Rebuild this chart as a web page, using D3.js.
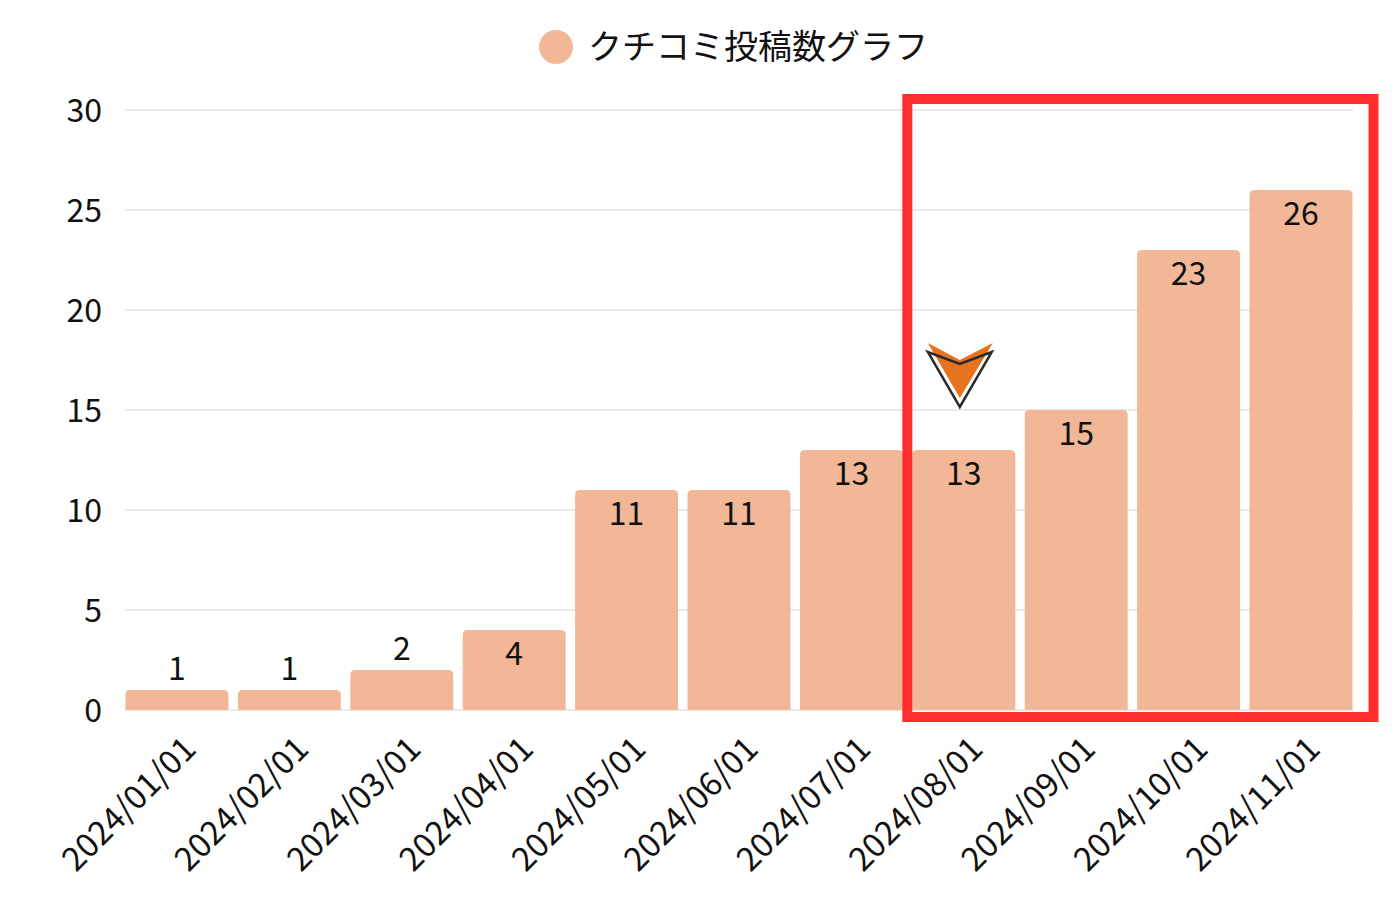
<!DOCTYPE html>
<html>
<head>
<meta charset="utf-8">
<script src="https://cdn.jsdelivr.net/npm/d3@7"></script>
<style>
  html, body { margin: 0; padding: 0; background: #fff; }
  svg text { font-family: "Noto Sans CJK JP", "Noto Sans", sans-serif; fill: #111; }
</style>
</head>
<body>
<svg id="chart" width="1400" height="920"></svg>
<script>
// chart data
const months = ["2024/01/01", "2024/02/01", "2024/03/01", "2024/04/01", "2024/05/01", "2024/06/01",
  "2024/07/01", "2024/08/01", "2024/09/01", "2024/10/01", "2024/11/01"];
const reviewCounts = [1, 1, 2, 4, 11, 11, 13, 13, 15, 23, 26];
const yTicks = [0, 5, 10, 15, 20, 25, 30];
const legendLabel = "クチコミ投稿数グラフ";
const highlightFrom = "2024/08/01";
const highlightTo = "2024/11/01";

const BAR_COLOR = "#f2b797";
const GRID_COLOR = "#e3e3e3";
const BOX_COLOR = "#ff2d2d";
const ARROW_COLOR = "#e8731f";

const svg = d3.select("#chart");

const x = d3.scaleBand()
  .domain(months)
  .range([121, 1357])
  .paddingInner(0.084)
  .paddingOuter(0.04);

const y = d3.scaleLinear()
  .domain([0, 30])
  .range([710, 110]);

// grid lines
svg.append("g")
  .selectAll("line")
  .data(yTicks)
  .enter()
  .append("line")
  .attr("x1", 125)
  .attr("x2", 1353)
  .attr("y1", d => y(d))
  .attr("y2", d => y(d))
  .attr("stroke", GRID_COLOR)
  .attr("stroke-width", 1.5);

// y axis labels
svg.append("g")
  .selectAll("text")
  .data(yTicks)
  .enter()
  .append("text")
  .attr("x", 102)
  .attr("y", d => y(d))
  .attr("dy", "0.36em")
  .attr("text-anchor", "end")
  .attr("font-size", 32)
  .text(d => d);

// bars with rounded top corners
const r = 5;
const barPath = d => {
  const x0 = x(d.m), w = x.bandwidth();
  const top = y(d.v), base = y(0);
  return `M${x0},${base} V${top + r} Q${x0},${top} ${x0 + r},${top} H${x0 + w - r} Q${x0 + w},${top} ${x0 + w},${top + r} V${base} Z`;
};

const rows = months.map((m, i) => ({ m: m, v: reviewCounts[i] }));

svg.append("g")
  .selectAll("path")
  .data(rows)
  .enter()
  .append("path")
  .attr("d", barPath)
  .attr("fill", BAR_COLOR);

// value labels: inside near the top, above when bar is too short
svg.append("g")
  .selectAll("text")
  .data(rows)
  .enter()
  .append("text")
  .attr("x", d => x(d.m) + x.bandwidth() / 2)
  .attr("y", d => (y(0) - y(d.v) < 60) ? y(d.v) - 22 : y(d.v) + 23)
  .attr("dy", "0.36em")
  .attr("text-anchor", "middle")
  .attr("font-size", 32)
  .text(d => d.v);

// x axis labels (rotated)
svg.append("g")
  .selectAll("text")
  .data(months)
  .enter()
  .append("text")
  .attr("transform", d => `translate(${x(d) + x.bandwidth() / 2 + 21},751) rotate(-45)`)
  .attr("text-anchor", "end")
  .attr("font-size", 33)
  .text(d => d);

// legend
const legend = svg.append("g");
legend.append("circle")
  .attr("cx", 556)
  .attr("cy", 47)
  .attr("r", 17)
  .attr("fill", BAR_COLOR);
legend.append("text")
  .attr("x", 588)
  .attr("y", 47)
  .attr("dy", "0.36em")
  .attr("font-size", 34)
  .text(legendLabel);

// highlight box
const boxL = x(highlightFrom) - 5;
const boxR = x(highlightTo) + x.bandwidth() + 21;
svg.append("rect")
  .attr("x", boxL)
  .attr("y", y(30) - 11)
  .attr("width", boxR - boxL)
  .attr("height", y(0) + 7 - (y(30) - 11))
  .attr("fill", "none")
  .attr("stroke", BOX_COLOR)
  .attr("stroke-width", 10);

// arrow marker above the highlighted month
const ax = x(highlightFrom) + x.bandwidth() / 2 - 4;
const ay = y(15);
const arrow = svg.append("g");
arrow.append("path")
  .attr("d", `M${ax - 32},${ay - 67} L${ax},${ay - 50} L${ax + 33},${ay - 67} L${ax},${ay - 12} Z`)
  .attr("fill", ARROW_COLOR);
arrow.append("path")
  .attr("d", `M${ax - 32},${ay - 58} L${ax},${ay - 46} L${ax + 32},${ay - 58} L${ax},${ay - 3} Z`)
  .attr("fill", "none")
  .attr("stroke", "#2b2b2b")
  .attr("stroke-width", 2.5)
  .attr("stroke-linejoin", "miter");
</script>
</body>
</html>
